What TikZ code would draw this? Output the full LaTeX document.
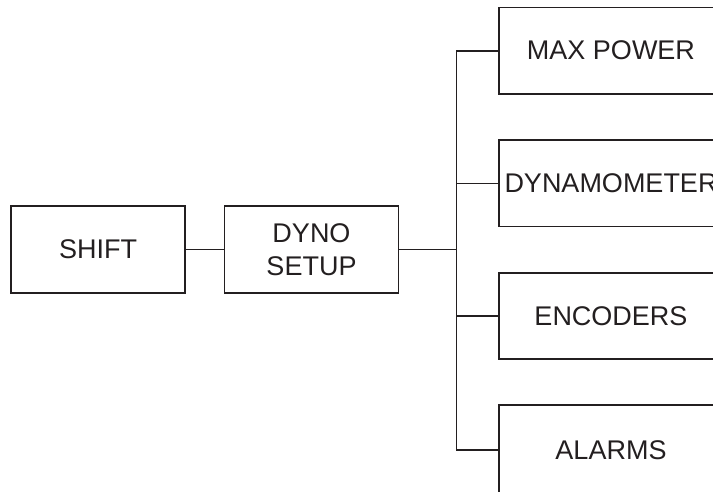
\documentclass[tikz,border=0pt]{standalone}
\usepackage{fontspec}
\setmainfont{Liberation Sans}
\definecolor{ink}{HTML}{231F20}
\begin{document}
\begin{tikzpicture}[x=1pt,y=-1pt,
  box/.style={draw=ink,line width=1.6pt,rectangle,inner sep=0pt,align=center,
    text=ink,font=\fontsize{27}{33}\selectfont},
  smallbox/.style={box,minimum width=174pt,minimum height=86.5pt},
  bigbox/.style={box,minimum width=224pt,minimum height=86.5pt},
  wire/.style={draw=ink,line width=1.6pt}]
\useasboundingbox (0,0) rectangle (713,491);
\clip (0,0) rectangle (713,491);
\node[smallbox] (shift) at (98,249.5) {SHIFT};
\node[smallbox] (dyno) at (311.5,249.5) {DYNO\\SETUP};
\node[bigbox] (maxp) at (611,50.7) {MAX POWER};
\node[bigbox] (dynam) at (611,183.3) {DYNAMOMETER};
\node[bigbox] (enc) at (611,316) {ENCODERS};
\node[bigbox, minimum height=100pt] (alarm) at (611,455) {};
\node[text=ink,font=\fontsize{27}{33}\selectfont] (alarmtxt) at (611,450) {ALARMS};
\coordinate (bus) at (456.3,249.5);
\coordinate (alarmin) at (alarm.west |- alarmtxt);
\draw[wire] (shift.east) -- (dyno.west);
\draw[wire] (dyno.east) -- (bus);
\draw[wire] (maxp.west) -| (bus);
\draw[wire] (dynam.west) -- (dynam.west -| bus);
\draw[wire] (enc.west) -- (enc.west -| bus);
\draw[wire] (alarmin) -| (bus);
\end{tikzpicture}
\end{document}
